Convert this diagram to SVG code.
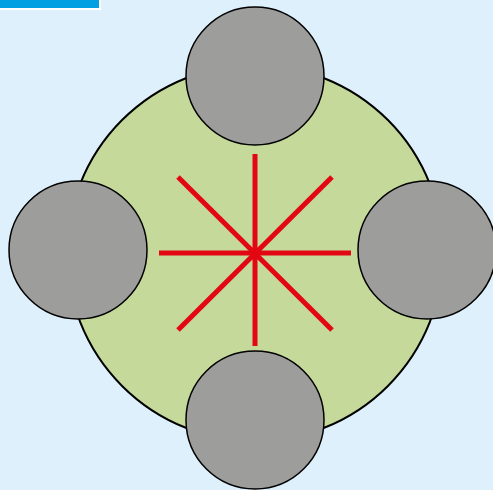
<svg xmlns="http://www.w3.org/2000/svg" width="493" height="490" viewBox="0 0 493 490">
<style>
.node{fill:#9d9d9c;stroke:#000;stroke-width:1.5}
.ray{stroke:#e30613;stroke-width:5;fill:none}
</style>
<rect width="493" height="490" fill="#dff0fd"/>
<rect x="-2" y="-2" width="102" height="11" fill="#00a0e3" stroke="#fff" stroke-width="2"/>
<g id="base"><circle cx="255" cy="253" r="188" fill="#c5da9a" stroke="#000" stroke-width="2"/></g>
<g id="connectors">
<line class="ray" x1="255" y1="154" x2="255" y2="346"/>
<line class="ray" x1="159" y1="253" x2="351" y2="253"/>
<line class="ray" x1="178" y1="177" x2="332" y2="330"/>
<line class="ray" x1="332" y1="177" x2="178" y2="330"/>
</g>
<g id="top"><circle class="node" cx="255" cy="76" r="69"/></g>
<g id="left"><circle class="node" cx="78" cy="250" r="69"/></g>
<g id="right"><circle class="node" cx="427" cy="250" r="69"/></g>
<g id="bottom"><circle class="node" cx="255" cy="420" r="69"/></g>
</svg>
